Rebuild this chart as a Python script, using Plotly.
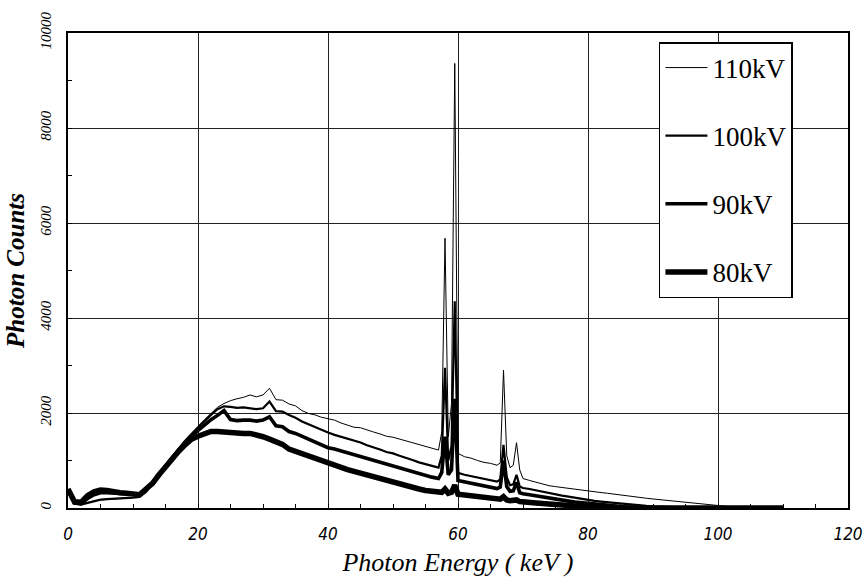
import plotly.graph_objects as go

energy_keV = (
    list(range(0, 58))
    + [57.5, 58, 58.5, 59, 59.5, 60]
    + [61, 62, 63, 64, 65, 66]
    + [66.5, 67, 67.5, 68, 68.5, 69, 69.5, 70]
    + list(range(71, 111))
)

counts_110kV = [
    300, 100, 80, 120, 150, 170, 180, 185, 195, 205,
    215, 230, 330, 520, 720, 900, 1080, 1260, 1420, 1570,
    1720, 1860, 1990, 2120, 2200, 2260, 2300, 2330, 2380, 2340,
    2380, 2520, 2280, 2270, 2190, 2150, 2050, 1990, 1960, 1910,
    1880, 1850, 1790, 1750, 1700, 1690, 1640, 1600, 1560, 1510,
    1490, 1450, 1420, 1380, 1330, 1300, 1250, 1220,
    1600, 5680, 1500, 2200, 9360, 1150,
    1080, 1050, 1000, 960, 940, 900,
    950, 2900, 1100, 850, 900, 1375, 800, 620,
    580, 540, 500, 470, 450, 430, 410, 390, 380, 350,
    340, 325, 310, 290, 275, 255, 240, 225, 205, 190,
    175, 160, 150, 135, 120, 105, 90, 75, 60, 45,
    35, 25, 15, 8, 0, 0, 0, 0, 0, 0,
]

counts_100kV = [
    350, 90, 70, 110, 150, 175, 185, 190, 200, 210,
    220, 235, 340, 520, 720, 900, 1080, 1250, 1410, 1560,
    1700, 1830, 1960, 2080, 2140, 2130, 2110, 2120, 2100, 2080,
    2100, 2240, 2040, 2030, 1960, 1900, 1820, 1760, 1700, 1650,
    1590, 1540, 1500, 1460, 1410, 1380, 1320, 1280, 1230, 1180,
    1150, 1100, 1060, 1010, 960, 920, 880, 850,
    1100, 2950, 1000, 1300, 4350, 740,
    700, 670, 640, 610, 580, 555,
    600, 1330, 650, 480, 500, 700, 450, 420,
    400, 370, 340, 310, 290, 260, 240, 215, 190, 170,
    150, 135, 120, 105, 90, 78, 66, 55, 45, 36,
    28, 21, 15, 10, 6, 3, 0, 0, 0, 0,
    0, 0, 0, 0, 0, 0, 0, 0, 0, 0,
]

counts_90kV = [
    380, 110, 90, 200, 280, 320, 320, 310, 300, 300,
    290, 280, 380, 520, 710, 880, 1050, 1220, 1380, 1520,
    1640, 1760, 1860, 1950, 2050, 1860, 1840, 1850, 1850, 1830,
    1850, 1920, 1730, 1710, 1610, 1570, 1510, 1450, 1390, 1330,
    1270, 1240, 1200, 1160, 1120, 1080, 1040, 1000, 960, 920,
    890, 840, 800, 760, 720, 690, 650, 620,
    750, 1500, 700, 800, 2300, 580,
    550, 520, 490, 460, 435, 410,
    440, 1000, 450, 350, 360, 540, 320, 300,
    280, 255, 230, 205, 185, 165, 145, 125, 110, 95,
    80, 66, 54, 42, 32, 22, 14, 8, 3, 0,
    0, 0, 0, 0, 0, 0, 0, 0, 0, 0,
    0, 0, 0, 0, 0, 0, 0, 0, 0, 0,
]

counts_80kV = [
    400, 130, 120, 260, 340, 380, 370, 340, 320, 310,
    300, 280, 400, 520, 700, 870, 1030, 1190, 1330, 1450,
    1510, 1570, 1610, 1610, 1600, 1570, 1580, 1570, 1570, 1540,
    1500, 1450, 1400, 1340, 1240, 1190, 1140, 1090, 1040, 990,
    940, 900, 850, 810, 770, 730, 690, 650, 610, 570,
    530, 500, 460, 430, 400, 370, 345, 320,
    330, 400, 310, 330, 480, 290,
    270, 250, 230, 215, 200, 185,
    185, 240, 170, 155, 150, 170, 135, 125,
    115, 105, 95, 85, 72, 60, 45, 30, 15, 0,
    0, 0, 0, 0, 0, 0, 0, 0, 0, 0,
    0, 0, 0, 0, 0, 0, 0, 0, 0, 0,
    0, 0, 0, 0, 0, 0, 0, 0, 0, 0,
]

# (name, values, line width, legend rank)
series = [
    ("80kV", counts_80kV, 5.5, 4),
    ("90kV", counts_90kV, 3.6, 3),
    ("100kV", counts_100kV, 2.2, 2),
    ("110kV", counts_110kV, 1.0, 1),
]

x_ticks = [0, 20, 40, 60, 80, 100, 120]
y_ticks = [0, 2000, 4000, 6000, 8000, 10000]

fig = go.Figure()
for name, vals, w, rank in series:
    fig.add_trace(go.Scatter(
        x=energy_keV, y=vals, mode="lines", name=name, legendgroup=name,
        legendrank=rank,
        line=dict(color="black", width=w),
    ))

fig.update_layout(
    width=864, height=577,
    margin=dict(l=68, r=16, t=33, b=69),
    paper_bgcolor="white", plot_bgcolor="white",
    showlegend=True,
    legend=dict(
        x=0.7576, y=0.981, xanchor="left", yanchor="top",
        bgcolor="white", bordercolor="black", borderwidth=1.5,
        traceorder="grouped", tracegroupgap=30, itemwidth=42,
        font=dict(family="Liberation Serif", size=27, color="black"),
    ),
    xaxis=dict(
        range=[0, 120], tickvals=x_ticks, ticktext=[str(v) for v in x_ticks],
        automargin=False,
        showgrid=True, gridcolor="#222", gridwidth=1,
        showline=True, linecolor="black", linewidth=2, mirror=True,
        ticks="inside", ticklen=0, zeroline=False,
        minor=dict(dtick=5, ticks="inside", ticklen=4, tickcolor="black", showgrid=False),
        tickfont=dict(family="DejaVu Sans Condensed, DejaVu Sans", size=17,
                      color="black", style="italic"),
        ticklabelstandoff=10,
        title=dict(text="Photon Energy ( keV )", standoff=12,
                   font=dict(family="Liberation Serif", size=26, color="black", style="italic")),
    ),
    yaxis=dict(
        range=[0, 10000], tickvals=y_ticks, ticktext=[str(v) for v in y_ticks],
        automargin=False,
        showgrid=True, gridcolor="#222", gridwidth=1,
        showline=True, linecolor="black", linewidth=2, mirror=True,
        ticks="inside", ticklen=0, zeroline=False, tickangle=-90,
        minor=dict(dtick=1000, ticks="inside", ticklen=4, tickcolor="black", showgrid=False),
        tickfont=dict(family="Liberation Serif", size=15, color="black", style="italic"),
        ticklabelstandoff=9,
        title=dict(text="<b>Photon Counts</b>", standoff=6,
                   font=dict(family="Liberation Serif", size=25, color="black", style="italic")),
    ),
)

fig.write_html("out.html", config={"displayModeBar": False},
               post_script="document.body.style.margin='0';")
